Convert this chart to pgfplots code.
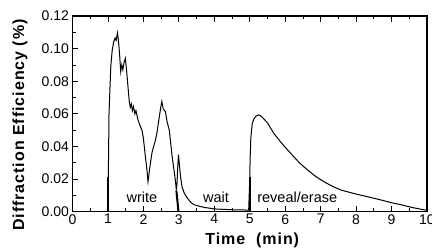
\documentclass[border=0pt]{standalone}
\usepackage{fontspec}
\setmainfont{Liberation Sans}
\newfontfamily\lblfont[LetterSpace=6]{Liberation Sans}
\usepackage{pgfplots}
\pgfplotsset{compat=1.18}
\begin{document}
\begin{tikzpicture}
\begin{axis}[
  name=ax,
  scale only axis,
  width=354.5pt, height=195.7pt,
  xmin=0, xmax=10, ymin=0, ymax=0.12,
  xtick={0,1,...,10},
  ytick={0,0.02,0.04,0.06,0.08,0.10,0.12},
  minor x tick num=1,
  minor y tick num=1,
  xtick pos=both,
  ytick pos=left,
  tick align=inside,
  major tick length=6pt,
  minor tick length=3.5pt,
  tick style={black, line width=0.8pt},
  axis line style={line width=1.4pt},
  scaled y ticks=false,
  ticklabel style={font=\fontsize{14}{16}\selectfont},
  yticklabel style={/pgf/number format/.cd, fixed, fixed zerofill, precision=2, assume math mode=true},
  xticklabel style={/pgf/number format/assume math mode=true, yshift=1pt},
  xlabel={\lblfont\bfseries Time\ \ (min)},
  ylabel={\lblfont\bfseries Diffraction Efficiency (\%)},
  label style={font=\fontsize{16}{18}\selectfont},
  xlabel style={at={(axis description cs:0.507,-0.167)}, anchor=base},
  ylabel style={at={(axis description cs:-0.148,0.443)}, anchor=center},
]
\addplot[black, line width=1pt] coordinates {
(0,0) (1,0) (1.01,0.02) (1.03,0.06) (1.08,0.089) (1.12,0.099) (1.16,0.104) (1.20,0.1065)
(1.23,0.105) (1.27,0.1096) (1.30,0.104) (1.33,0.096) (1.36,0.086) (1.39,0.090) (1.42,0.087)
(1.46,0.092) (1.49,0.094) (1.52,0.088) (1.56,0.078) (1.60,0.068) (1.63,0.064) (1.66,0.066)
(1.69,0.062) (1.72,0.0645) (1.76,0.060) (1.79,0.062) (1.84,0.057) (1.90,0.053) (1.96,0.050)
(2.00,0.045) (2.05,0.035) (2.10,0.0256) (2.13,0.0184) (2.18,0.027) (2.24,0.036) (2.29,0.040)
(2.34,0.044) (2.38,0.048) (2.44,0.057) (2.49,0.064) (2.52,0.0676) (2.56,0.063) (2.62,0.0614)
(2.67,0.055) (2.73,0.050) (2.78,0.040) (2.81,0.034) (2.86,0.026) (2.90,0.0195) (2.93,0.0133)
(2.95,0.018) (2.97,0.028) (2.99,0.035) (3.01,0.030) (3.05,0.021) (3.09,0.0154) (3.15,0.0115)
(3.22,0.009) (3.28,0.0072) (3.35,0.0055) (3.42,0.0044) (3.5,0.0038) (3.7,0.0027) (4.0,0.0017)
(4.5,0.0012) (4.97,0.001) (5.0,0.02) (5.01,0.032) (5.03,0.045) (5.07,0.054) (5.12,0.057)
(5.18,0.0587) (5.26,0.0594) (5.35,0.058) (5.5,0.0545) (5.68,0.048) (5.9,0.042) (6.15,0.0359)
(6.4,0.030) (6.63,0.0256) (6.85,0.0218) (7.09,0.0184) (7.33,0.0156) (7.57,0.0133) (8.0,0.0108)
(8.32,0.0092) (8.7,0.0072) (9.0,0.0055) (9.26,0.0043) (9.6,0.0025) (10,0.0008)
};
\addplot[black, line width=2pt] coordinates {(1,0) (1,0.021)};
\addplot[black, line width=2pt] coordinates {(2.93,0.013) (2.99,0)};
\addplot[black, line width=2pt] coordinates {(5,0) (5,0.021)};
\node[anchor=base, font=\fontsize{14.5}{16}\selectfont] at (axis cs:1.96,0.0055) {write};
\node[anchor=base, font=\fontsize{14.5}{16}\selectfont] at (axis cs:4.05,0.0055) {wait};
\node[anchor=base, font=\fontsize{14.5}{16}\selectfont] at (axis cs:6.34,0.0055) {reveal/erase};
\end{axis}
\pgfresetboundingbox
\path ([xshift=-72.5pt,yshift=-37.3pt]ax.south west) rectangle ([xshift=5pt,yshift=16pt]ax.north east);
\end{tikzpicture}
\end{document}
